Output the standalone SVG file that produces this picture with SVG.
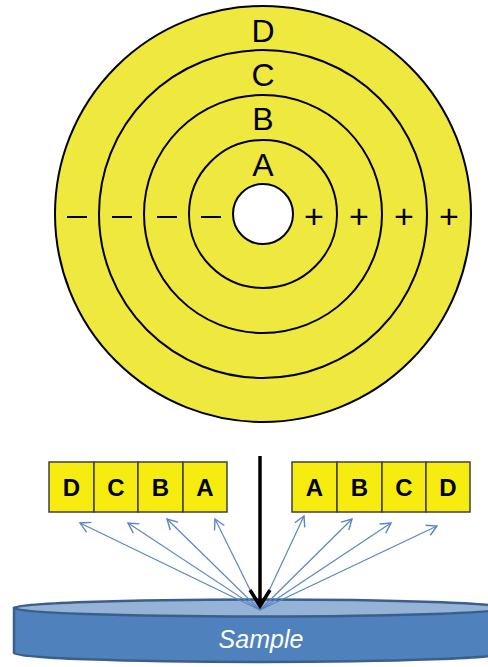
<svg xmlns="http://www.w3.org/2000/svg" width="488" height="667" viewBox="0 0 488 667">
<style>
.ring{fill:#eee83f;stroke:#000;stroke-width:2}
.lbl{font-family:"Liberation Sans",Arial,sans-serif;font-size:32px;fill:#000;text-anchor:middle}
.sign{font-family:"Liberation Sans",Arial,sans-serif;font-size:34px;fill:#000;text-anchor:middle}
.cell{fill:#f7ec0f;stroke:#404040;stroke-width:1.5}
.cl{font-family:"Liberation Sans",Arial,sans-serif;font-weight:bold;font-size:24px;fill:#000;text-anchor:middle}
.ray{stroke:#5b86c4;stroke-width:1.2;fill:none;marker-end:url(#bh)}
</style>
<defs>
<marker id="bh" markerUnits="userSpaceOnUse" markerWidth="14" markerHeight="14" refX="11" refY="6.5" orient="auto" viewBox="0 0 14 14">
<path d="M1,1 L11,6.5 L1,12" fill="none" stroke="#5b86c4" stroke-width="1.4"/>
</marker>
<marker id="kh" markerUnits="userSpaceOnUse" markerWidth="22" markerHeight="26" refX="18" refY="12" orient="auto" viewBox="0 0 22 26">
<path d="M2,2 L18,12 L2,22" fill="none" stroke="#000" stroke-width="3.5"/>
</marker>
</defs>

<g id="disk">
<circle class="ring" cx="263" cy="214" r="208"/>
<circle class="ring" cx="263" cy="214" r="164"/>
<circle class="ring" cx="263" cy="214" r="119"/>
<circle class="ring" cx="263" cy="214" r="74"/>
<circle cx="263" cy="214" r="30" fill="#fff" stroke="#000" stroke-width="2"/>
<text class="lbl" x="263" y="42">D</text>
<text class="lbl" x="263" y="86">C</text>
<text class="lbl" x="263" y="130">B</text>
<text class="lbl" x="263" y="176">A</text>
<g stroke="#000" stroke-width="2">
<line x1="67" y1="217" x2="87" y2="217"/>
<line x1="112" y1="217" x2="132" y2="217"/>
<line x1="157" y1="217" x2="177" y2="217"/>
<line x1="201" y1="217" x2="221" y2="217"/>
</g>
<text class="sign" x="314" y="228">+</text>
<text class="sign" x="359" y="228">+</text>
<text class="sign" x="404" y="228">+</text>
<text class="sign" x="449" y="228">+</text>
</g>

<g id="sample">
<path d="M14,608 L14,653 A246,9 0 0 0 506,653 L506,608 Z" fill="#4f81bd" stroke="#3a5f8c" stroke-width="2.5"/>
<ellipse cx="260" cy="608" rx="246" ry="8.5" fill="#95b3d7" stroke="#3a5f8c" stroke-width="2.5"/>
<text x="261" y="648" font-family="'Liberation Sans',Arial,sans-serif" font-style="italic" font-size="25" fill="#fff" text-anchor="middle">Sample</text>
</g>

<g id="detector-left">
<rect class="cell" x="49" y="462" width="45" height="50"/>
<rect class="cell" x="94" y="462" width="44" height="50"/>
<rect class="cell" x="138" y="462" width="45" height="50"/>
<rect class="cell" x="183" y="462" width="44" height="50"/>
<text class="cl" x="71.5" y="496">D</text>
<text class="cl" x="116" y="496">C</text>
<text class="cl" x="160.5" y="496">B</text>
<text class="cl" x="205" y="496">A</text>
</g>

<g id="detector-right">
<rect class="cell" x="292" y="462" width="45" height="50"/>
<rect class="cell" x="337" y="462" width="45" height="50"/>
<rect class="cell" x="382" y="462" width="44" height="50"/>
<rect class="cell" x="426" y="462" width="44" height="50"/>
<text class="cl" x="314.5" y="496">A</text>
<text class="cl" x="359.5" y="496">B</text>
<text class="cl" x="404" y="496">C</text>
<text class="cl" x="448" y="496">D</text>
</g>

<g id="connectors">
<line x1="260" y1="610" x2="80" y2="523" class="ray"/>
<line x1="260" y1="610" x2="128" y2="523" class="ray"/>
<line x1="260" y1="610" x2="167" y2="519" class="ray"/>
<line x1="260" y1="610" x2="215" y2="519" class="ray"/>
<line x1="260" y1="610" x2="304" y2="516" class="ray"/>
<line x1="260" y1="610" x2="352" y2="519" class="ray"/>
<line x1="260" y1="610" x2="391" y2="523" class="ray"/>
<line x1="260" y1="610" x2="437" y2="526" class="ray"/>
<line x1="260" y1="456" x2="260" y2="606" stroke="#000" stroke-width="3.5" marker-end="url(#kh)"/>
</g>
</svg>
